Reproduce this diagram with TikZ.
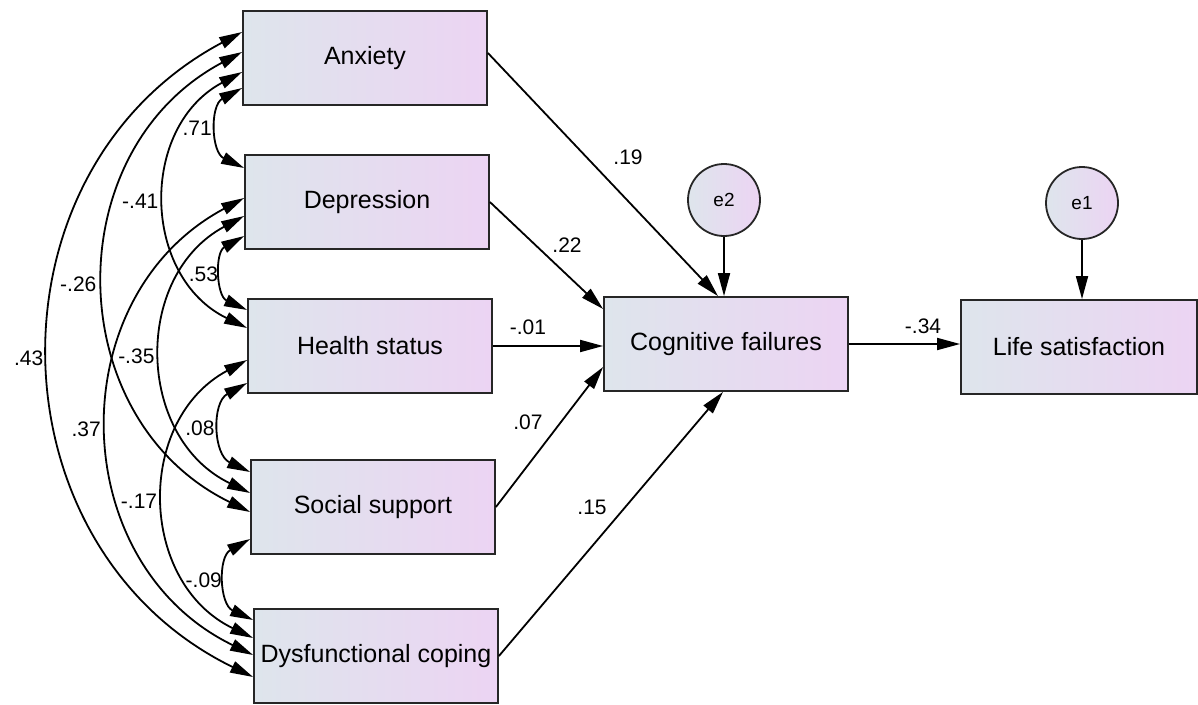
\documentclass[tikz,border=0pt]{standalone}
\usepackage{fontspec}
\setmainfont{Liberation Sans}
\usetikzlibrary{arrows.meta, positioning}

\definecolor{boxleft}{RGB}{222,229,236}
\definecolor{boxright}{RGB}{236,212,243}

\begin{document}
\begin{tikzpicture}[
        x=1pt, y=-1pt,
        var/.style={rectangle, draw=black!85, line width=1.8pt, left color=boxleft, right color=boxright, minimum width=244pt, minimum height=94pt, inner sep=0pt, font=\fontsize{25}{30}\selectfont},
        err/.style={circle, draw=black!85, line width=1.8pt, left color=boxleft, right color=boxright, minimum size=72pt, inner sep=0pt, font=\fontsize{19}{22}\selectfont},
        effect/.style={-{Triangle[length=23pt, width=12pt]}, line width=1.8pt},
        cov/.style={{Triangle[length=23pt, width=12pt]}-{Triangle[length=23pt, width=12pt]}, line width=1.8pt, bend right=63, looseness=1.17},
        coef/.style={font=\fontsize{21}{24}\selectfont, inner sep=1pt}
    ]
        \useasboundingbox[fill=white] (0,0) rectangle (1198,704);

        % Observed variables
        \node[var] (anx) at (365,58) {Anxiety};
        \node[var] (dep) at (367,202) {Depression};
        \node[var] (hea) at (370,346) {Health status};
        \node[var] (soc) at (373,507) {Social support};
        \node[var] (dys) at (376,656) {Dysfunctional coping};
        \node[var] (cog) at (726,344) {Cognitive failures};
        \node[var, minimum width=236pt] (life) at (1079,347) {Life satisfaction};

        % Error terms
        \node[err] (e2) at (724,200) {e2};
        \node[err] (e1) at (1082,203) {e1};

        % Covariances
        \draw[cov] ([yshift=26pt]anx.west) to node[coef, left=5pt] {.43} ([yshift=-21pt]dys.west);
        \draw[cov] ([yshift=6pt]anx.west) to node[coef, left=7pt] {-.26} ([yshift=-5pt]soc.west);
        \draw[cov] ([yshift=-14pt]anx.west) to node[coef, left=6pt] {-.41} ([yshift=18pt]hea.west);
        \draw[cov] ([yshift=-30pt]anx.west) to node[coef, left=5pt] {.71} ([yshift=34pt]dep.west);
        \draw[cov] ([yshift=4pt]dep.west) to node[coef, left=6pt] {.37} ([yshift=1pt]dys.west);
        \draw[cov] ([yshift=-14pt]dep.west) to node[coef, left=6pt] {-.35} ([yshift=14pt]soc.west);
        \draw[cov] ([yshift=-34pt]dep.west) to node[coef, left=3pt] {.53} ([yshift=36pt]hea.west);
        \draw[cov] ([yshift=-14pt]hea.west) to node[coef, left=6pt] {-.17} ([yshift=18pt]dys.west);
        \draw[cov] ([yshift=-37pt]hea.west) to node[coef, left=5pt] {.08} ([yshift=35pt]soc.west);
        \draw[cov] ([yshift=-32pt]soc.west) to node[coef, left=3pt] {-.09} ([yshift=36pt]dys.west);

        % Regression paths
        \draw[effect] ([yshift=5pt]anx.east) -- ([xshift=-8pt]cog.north);
        \draw[effect] (dep.east) -- ([yshift=35pt]cog.west);
        \draw[effect] (hea.east) -- (hea.east -| cog.west);
        \draw[effect] (soc.east) -- ([yshift=-23pt]cog.west);
        \draw[effect] (dys.east) -- ([xshift=-3pt]cog.south);
        \draw[effect] (cog.east) -- (cog.east -| life.west);
        \draw[effect] (e2) -- (e2 |- cog.north);
        \draw[effect] (e1) -- (e1 |- life.north);

        % Path coefficients
        \node[coef] (b19) at (628,157) {.19};
        \node[coef] (b22) at (567,245) {.22};
        \node[coef] (b01) at (528,327) {-.01};
        \node[coef] (b07) at (528,422) {.07};
        \node[coef] (b15) at (592,507) {.15};
        \node[coef] (b34) at (923,326) {-.34};
\end{tikzpicture}
\end{document}
